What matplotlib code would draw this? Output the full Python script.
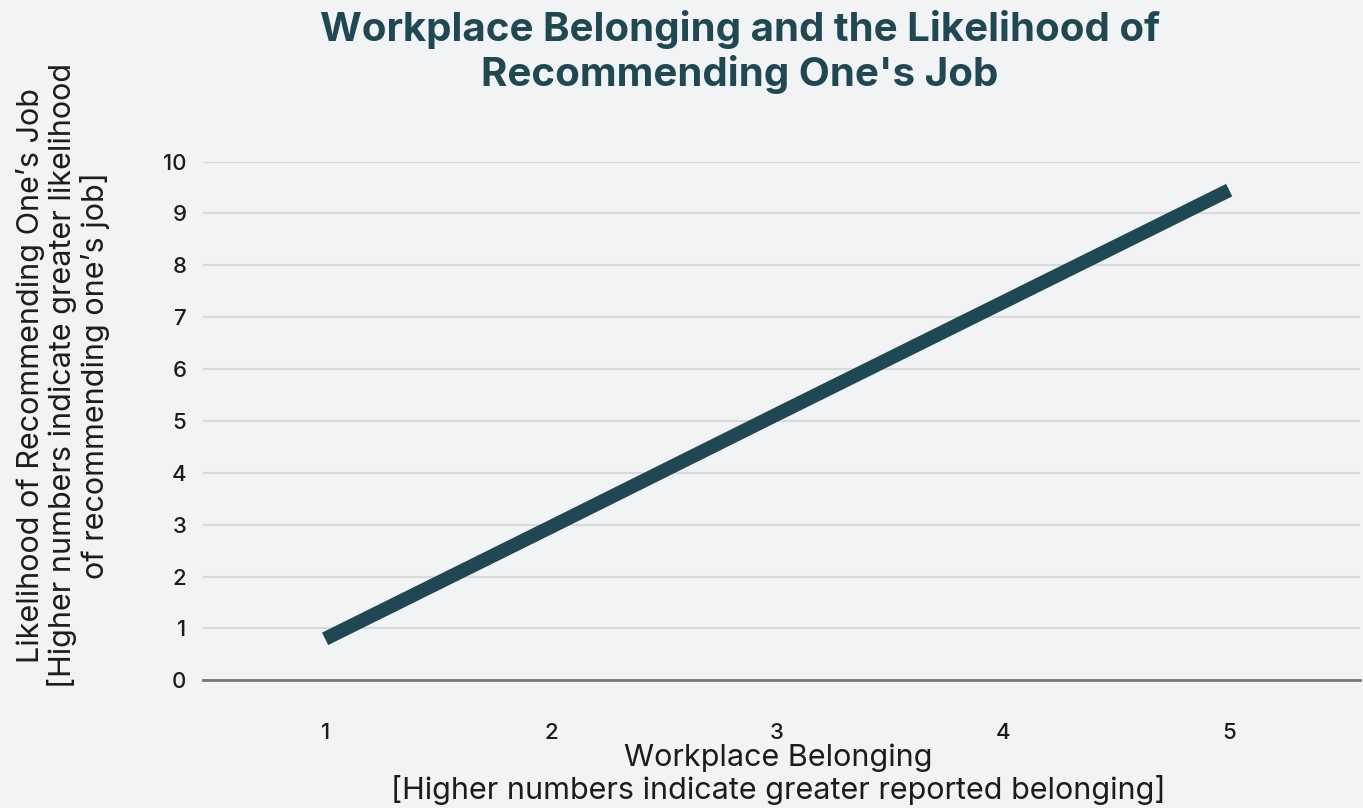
import numpy as np
import matplotlib
matplotlib.use("Agg")
import matplotlib.pyplot as plt

# belonging score vs. likelihood of recommending one's job
belonging = [1, 2, 3, 4, 5]
likelihood = [0.8, 2.96, 5.13, 7.29, 9.45]
y_ticks = list(range(0, 11))

bg = "#f2f3f5"
teal = "#1f4853"
ink = "#1c1c1c"

plt.rcParams['font.family'] = ['Inter', 'DejaVu Sans']

fig = plt.figure(figsize=(13.63, 8.08), dpi=100, facecolor=bg)
ax = fig.add_axes([0.149, 0.158, 0.849, 0.642], facecolor=bg)

ax.plot(belonging, likelihood, color=teal, linewidth=10, solid_capstyle="butt", zorder=3)

ax.set_xlim(0.46, 5.58)
ax.set_ylim(0, 10)
ax.set_xticks(belonging)
ax.set_yticks(y_ticks)
ax.tick_params(axis="both", length=0, labelsize=16, labelcolor=ink)
ax.tick_params(axis="x", pad=31)
ax.tick_params(axis="y", pad=12)
for lbl in ax.get_xticklabels() + ax.get_yticklabels():
    lbl.set_fontweight("medium")

ax.grid(axis="y", color="#d8d9db", linewidth=1.5, zorder=1)
for s in ["top", "right", "left"]:
    ax.spines[s].set_visible(False)
ax.spines["bottom"].set_color("#777777")
ax.spines["bottom"].set_linewidth(2)
ax.spines["bottom"].set_zorder(2)

fig.text(0.543, 0.988, "Workplace Belonging and the Likelihood of\nRecommending One's Job",
         ha="center", va="top", fontsize=29, fontweight="bold", color=teal, linespacing=1.2)

fig.text(0.571, 0.004, "Workplace Belonging\n[Higher numbers indicate greater reported belonging]",
         ha="center", va="bottom", fontsize=22, color=ink, linespacing=1.1)

fig.text(0.046, 0.535, "Likelihood of Recommending One\u2019s Job\n[Higher numbers indicate greater likelihood\nof recommending one\u2019s job]",
         ha="center", va="center", rotation=90, fontsize=22, color=ink, linespacing=1.1)

fig.savefig("out.png", dpi=100, facecolor=bg)
